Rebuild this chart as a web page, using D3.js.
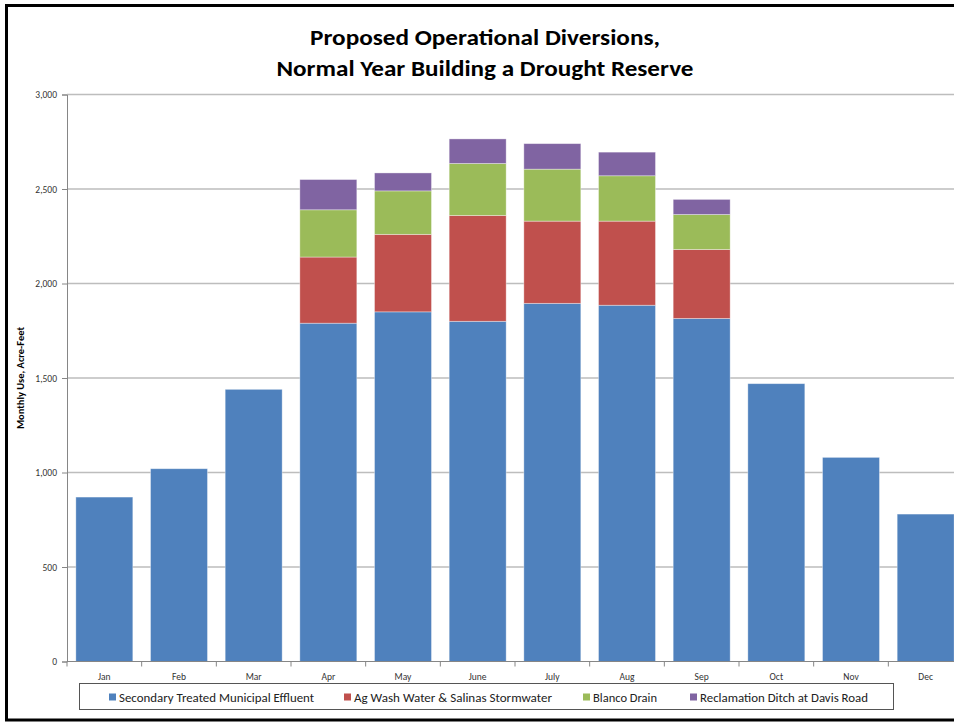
<!DOCTYPE html>
<html>
<head>
<meta charset="utf-8">
<script src="https://cdn.jsdelivr.net/npm/d3@7"></script>
<style>
    body { margin: 0; background: #fff; }
    svg { display: block; }
    text { font-family: Carlito, Calibri, Lato, "Liberation Sans", sans-serif; }
</style>
</head>
<body>
<svg id="chart"></svg>
<script>
// chart data
const months      = ["Jan", "Feb", "Mar", "Apr", "May", "June", "July", "Aug", "Sep", "Oct", "Nov", "Dec"];
const effluent    = [870, 1020, 1440, 1790, 1850, 1800, 1895, 1885, 1815, 1470, 1080, 780];
const agWash      = [0, 0, 0, 350, 410, 560, 435, 445, 365, 0, 0, 0];
const blanco      = [0, 0, 0, 250, 230, 275, 275, 240, 185, 0, 0, 0];
const reclamation = [0, 0, 0, 160, 95, 130, 135, 125, 80, 0, 0, 0];
const seriesNames = ["Secondary Treated Municipal Effluent", "Ag Wash Water & Salinas Stormwater",
                     "Blanco Drain", "Reclamation Ditch at Davis Road"];
const yTicks      = [0, 500, 1000, 1500, 2000, 2500, 3000];

const colors = ["#4F81BD", "#C0504D", "#9BBB59", "#8064A2"];
const keys   = ["effluent", "agWash", "blanco", "reclamation"];

let rows = months.map(function (m, i) {
    return {month: m, effluent: effluent[i], agWash: agWash[i], blanco: blanco[i], reclamation: reclamation[i]};
});

let svgWidth = 954, svgHeight = 723;
let plotLeft = 67, plotRight = 963, plotTop = 94.5, plotBottom = 661.5;

let svg = d3.select("#chart").attr("width", svgWidth).attr("height", svgHeight);

// outer frame (right edge falls outside the picture)
svg.append("rect")
   .attr("x", 6.5).attr("y", 5.5)
   .attr("width", 990).attr("height", 714.5)
   .attr("fill", "none").attr("stroke", "#000").attr("stroke-width", 3);

// title
let title = svg.append("g").attr("font-weight", "bold").attr("text-anchor", "middle").attr("fill", "#000");
title.append("text").attr("x", 485).attr("y", 45).attr("font-size", 23)
     .attr("textLength", 350).attr("lengthAdjust", "spacingAndGlyphs")
     .text("Proposed Operational Diversions,");
title.append("text").attr("x", 485).attr("y", 76).attr("font-size", 23)
     .attr("textLength", 417).attr("lengthAdjust", "spacingAndGlyphs")
     .text("Normal Year Building a Drought Reserve");

let x = d3.scaleBand()
          .domain(months)
          .range([plotLeft, plotRight])
          .paddingInner(0.237)
          .paddingOuter(0.1185);

let y = d3.scaleLinear().domain([0, 3000]).range([plotBottom, plotTop]);

// gridlines
svg.append("g")
   .selectAll("line")
   .data(yTicks.filter(function (d) { return d > 0; }))
   .enter()
   .append("line")
   .attr("x1", plotLeft).attr("x2", plotRight)
   .attr("y1", function (d) { return y(d); })
   .attr("y2", function (d) { return y(d); })
   .attr("stroke", "#bdbdbd").attr("stroke-width", 1.5);

// stacked bars
let stack = d3.stack().keys(keys);
let layers = svg.append("g")
                .selectAll("g")
                .data(stack(rows))
                .enter()
                .append("g")
                .attr("fill", function (d, i) { return colors[i]; });

layers.selectAll("rect")
      .data(function (d) { return d.filter(function (s) { return s[1] > s[0]; }); })
      .enter()
      .append("rect")
      .attr("x", function (d) { return x(d.data.month); })
      .attr("width", x.bandwidth())
      .attr("y", function (d) { return y(d[1]); })
      .attr("height", function (d) { return y(d[0]) - y(d[1]); })
      .attr("stroke", "#ffffff").attr("stroke-opacity", 0.45).attr("stroke-width", 0.8);

// y axis
let yAxis = svg.append("g")
               .attr("transform", "translate(" + plotLeft + ",0)")
               .call(d3.axisLeft(y).tickValues(yTicks).tickSize(5).tickPadding(5)
                       .tickFormat(d3.format(",")));
yAxis.select(".domain").attr("stroke", "#868686");
yAxis.selectAll(".tick line").attr("stroke", "#868686");
yAxis.selectAll(".tick text").attr("font-size", 9.5).attr("fill", "#333").attr("font-family", null);

// x axis with ticks between categories
let xAxisG = svg.append("g").attr("transform", "translate(0," + plotBottom + ")");
xAxisG.append("line").attr("x1", plotLeft).attr("x2", plotRight).attr("stroke", "#868686");
xAxisG.selectAll("line.tk")
      .data(months)
      .enter()
      .append("line")
      .attr("class", "tk")
      .attr("x1", function (d) { return x(d) - x.step() * x.paddingInner() / 2; })
      .attr("x2", function (d) { return x(d) - x.step() * x.paddingInner() / 2; })
      .attr("y1", 0).attr("y2", 5)
      .attr("stroke", "#868686");
xAxisG.selectAll("text")
      .data(months)
      .enter()
      .append("text")
      .attr("x", function (d) { return x(d) + x.bandwidth() / 2; })
      .attr("y", 18)
      .attr("text-anchor", "middle")
      .attr("font-size", 9.5)
      .attr("fill", "#333")
      .text(function (d) { return d; });

// y axis title
svg.append("text")
   .attr("transform", "translate(24,378) rotate(-90)")
   .attr("text-anchor", "middle")
   .attr("font-size", 9.5)
   .attr("font-weight", "bold")
   .attr("textLength", 102).attr("lengthAdjust", "spacingAndGlyphs")
   .text("Monthly Use, Acre-Feet");

// legend
let legend = svg.append("g");
legend.append("rect")
      .attr("x", 79.5).attr("y", 683.5)
      .attr("width", 814).attr("height", 26)
      .attr("fill", "#fff").attr("stroke", "#555").attr("stroke-width", 1);

let legendX   = [109, 344, 583, 690];
let legendLen = [195, 198, 64, 168];
let item = legend.selectAll("g.item")
                 .data(seriesNames)
                 .enter()
                 .append("g")
                 .attr("class", "item")
                 .attr("transform", function (d, i) { return "translate(" + legendX[i] + ",697)"; });
item.append("rect")
    .attr("x", 0).attr("y", -3.5)
    .attr("width", 7).attr("height", 7)
    .attr("fill", function (d, i) { return colors[i]; });
item.append("text")
    .attr("x", 10).attr("y", 4.5)
    .attr("font-size", 12)
    .attr("fill", "#222")
    .attr("textLength", function (d, i) { return legendLen[i]; })
    .attr("lengthAdjust", "spacingAndGlyphs")
    .text(function (d) { return d; });
</script>
</body>
</html>
